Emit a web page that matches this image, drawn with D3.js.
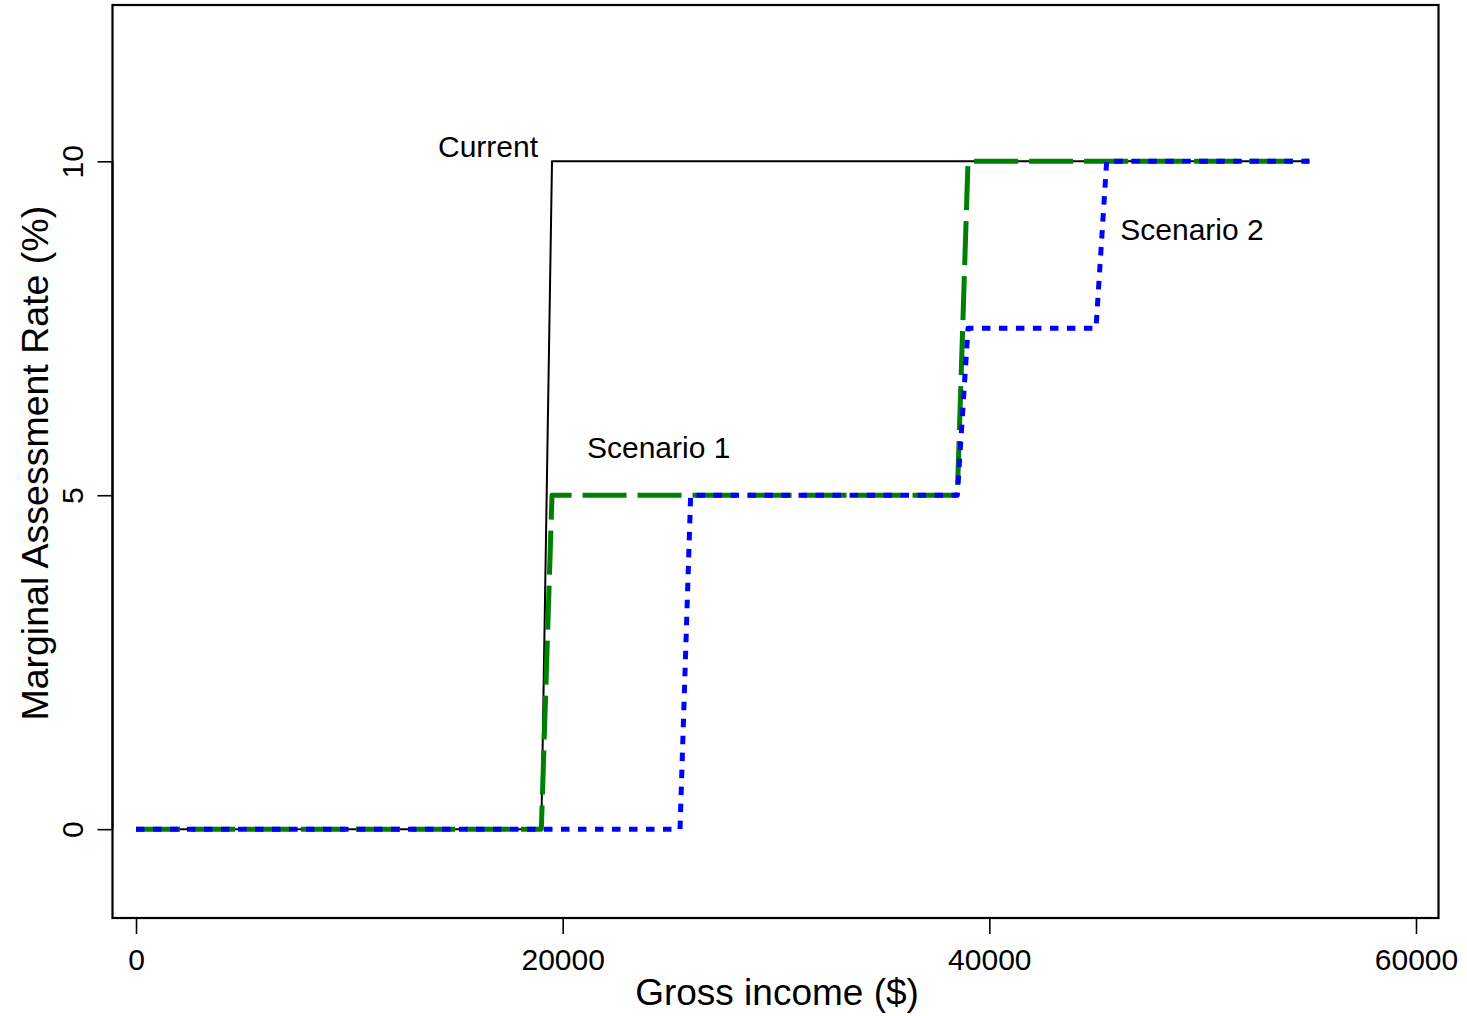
<!DOCTYPE html>
<html>
<head>
<meta charset="utf-8">
<script src="https://cdn.jsdelivr.net/npm/d3@7"></script>
<style>
  html, body { margin: 0; padding: 0; background: #fff; }
  svg { display: block; font-family: "Liberation Sans", Arial, sans-serif; }
</style>
</head>
<body>
<svg id="chart" width="1467" height="1016"></svg>
<script>
// Gross income grid points ($) and marginal assessment rates (%) per schedule
const currentIncome = [0, 19000, 19500, 55000];
const currentRate   = [0, 0, 10, 10];

const scenario1Income = [0, 19000, 19500, 38500, 39000, 55000];
const scenario1Rate   = [0, 0, 5, 5, 10, 10];

const scenario2Income = [0, 25500, 26000, 38500, 39000, 45000, 45500, 55000];
const scenario2Rate   = [0, 0, 5, 5, 7.5, 7.5, 10, 10];

const xTicks = [0, 20000, 40000, 60000];
const yTicks = [0, 5, 10];

const labelNames = ["Current", "Scenario 1", "Scenario 2"];
const labelIncome = [16500, 24500, 49500];
const labelRate = [10.22, 5.72, 8.98];

const svg = d3.select("#chart");

// plotting region (the framed box)
const box = { left: 112.5, right: 1438.5, top: 5, bottom: 918 };

const x = d3.scaleLinear().domain([-1102, 61055]).range([box.left, box.right]);
const y = d3.scaleLinear().domain([-1.33, 12.34]).range([box.bottom, box.top]);

// frame
svg.append("rect")
  .attr("x", box.left).attr("y", box.top)
  .attr("width", box.right - box.left).attr("height", box.bottom - box.top)
  .attr("fill", "none").attr("stroke", "#000").attr("stroke-width", 2.2);

// x axis
const xAxis = d3.axisBottom(x).tickValues(xTicks).tickSize(16).tickPadding(15)
  .tickFormat(d3.format("d"));
const gx = svg.append("g").attr("transform", `translate(0,${box.bottom})`).call(xAxis);
gx.select(".domain").attr("d", `M${x(0)},0H${x(60000)}`).attr("stroke-width", 2);
gx.selectAll(".tick line").attr("stroke-width", 1.6);
gx.selectAll(".tick text").attr("font-size", 30).attr("fill", "#000")
  .attr("font-family", "Liberation Sans, Arial, sans-serif");

// y axis (labels rotated, as drawn parallel to the axis)
const yAxis = d3.axisLeft(y).tickValues(yTicks).tickSize(15).tickFormat(d3.format("d"));
const gy = svg.append("g").attr("transform", `translate(${box.left},0)`).call(yAxis);
gy.select(".domain").attr("d", `M0,${y(0)}V${y(10)}`).attr("stroke-width", 2);
gy.selectAll(".tick line").attr("stroke-width", 1.6);
gy.selectAll(".tick text")
  .attr("x", null).attr("dy", null)
  .attr("font-size", 30).attr("fill", "#000")
  .attr("font-family", "Liberation Sans, Arial, sans-serif")
  .attr("text-anchor", "middle")
  .attr("dominant-baseline", "central")
  .attr("transform", "translate(-40,0) rotate(-90)");

// axis titles
svg.append("text")
  .attr("x", (x(0) + x(60000)) / 2 + 1).attr("y", 1005)
  .attr("text-anchor", "middle").attr("font-size", 37).attr("fill", "#000")
  .text("Gross income ($)");

svg.append("text")
  .attr("transform", `translate(48,${(y(0) + y(10)) / 2 - 32}) rotate(-90)`)
  .attr("text-anchor", "middle").attr("font-size", 37.5).attr("fill", "#000")
  .text("Marginal Assessment Rate (%)");

// schedules
const line = d3.line().x(d => x(d[0])).y(d => y(d[1]));
const zip = (a, b) => a.map((v, i) => [v, b[i]]);

const series = [
  { pts: zip(currentIncome, currentRate), color: "#000000", width: 2, dash: null },
  { pts: zip(scenario1Income, scenario1Rate), color: "#008000", width: 5, dash: "44,11" },
  { pts: zip(scenario2Income, scenario2Rate), color: "#0000ff", width: 5, dash: "8.5,8.5" }
];

svg.append("g").selectAll("path").data(series).join("path")
  .attr("d", d => line(d.pts))
  .attr("fill", "none")
  .attr("stroke", d => d.color)
  .attr("stroke-width", d => d.width)
  .attr("stroke-dasharray", d => d.dash)
  .attr("stroke-linejoin", "round");

// annotations
svg.append("g").selectAll("text").data(labelNames).join("text")
  .attr("x", (d, i) => x(labelIncome[i]))
  .attr("y", (d, i) => y(labelRate[i]))
  .attr("text-anchor", "middle")
  .attr("dominant-baseline", "central")
  .attr("font-size", 30).attr("fill", "#000")
  .text(d => d);
</script>
</body>
</html>
